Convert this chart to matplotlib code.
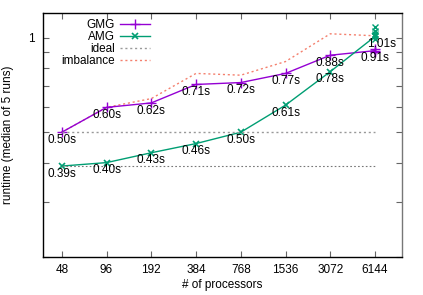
import matplotlib
matplotlib.use("Agg")
import matplotlib.pyplot as plt
from matplotlib.ticker import FixedLocator, NullFormatter

plt.rcParams['font.family'] = ['Liberation Sans', 'DejaVu Sans']
plt.rcParams['font.size'] = 8.5

# ====== DATA ======
procs = ["48", "96", "192", "384", "768", "1536", "3072", "6144"]
gmg = [0.50, 0.60, 0.62, 0.71, 0.72, 0.77, 0.88, 0.91]
amg = [0.39, 0.40, 0.43, 0.46, 0.50, 0.61, 0.78, 1.01]
imbalance = [0.50, 0.60, 0.64, 0.77, 0.76, 0.84, 1.03, 1.015]
gmg_ideal = 0.50
amg_ideal = 0.39
# individual runs at 6144 that spread out
amg_runs_last = [0.99, 1.01, 1.03, 1.05, 1.08]
gmg_runs_last = [0.90, 0.92]

GMG_COL = "#9400D3"
AMG_COL = "#009E73"

x = list(range(len(procs)))

fig = plt.figure(figsize=(4.23, 2.95), dpi=100)
ax = fig.add_axes([0.1017, 0.1288, 0.8483, 0.8272])

ax.plot(x, gmg, color=GMG_COL, marker="+", ms=7, mew=1, lw=1, label="GMG")
ax.plot(x, amg, color=AMG_COL, marker="x", ms=5, mew=1.2, lw=1, label="AMG")
ax.plot([x[0], x[-1]], [gmg_ideal, gmg_ideal], color="#999999", ls=(0, (1.5, 2)), lw=1, label="ideal")
ax.plot([x[0], x[-1]], [amg_ideal, amg_ideal], color="#777777", ls=(0, (1.5, 2)), lw=0.8)
ax.plot(x, imbalance, color="#F4806E", ls=(0, (1.5, 2)), lw=1, label="imbalance", zorder=1)

ax.plot([x[-1]] * len(amg_runs_last), amg_runs_last, ls="none", marker="x", ms=5, mew=1, color=AMG_COL)
ax.plot([x[-1]] * len(gmg_runs_last), gmg_runs_last, ls="none", marker="+", ms=7, mew=1, color=GMG_COL)

for xi, v in zip(x, gmg):
    ax.annotate(f"{v:.2f}s", (xi, v), xytext=(0, -5.5), textcoords="offset points",
                ha="center", va="center")
for i, (xi, v) in enumerate(zip(x, amg)):
    dx = 5 if i == len(amg) - 1 else 0
    ax.annotate(f"{v:.2f}s", (xi, v), xytext=(dx, -5.5), textcoords="offset points",
                ha="center", va="center")

ax.set_yscale("log")
ax.set_ylim(0.2, 1.2)
ax.set_xlim(-0.42, 7.6)
ax.yaxis.set_major_locator(FixedLocator([1.0]))
ax.yaxis.set_major_formatter(plt.FixedFormatter(["1"]))
ax.yaxis.set_minor_locator(FixedLocator([0.2, 0.3, 0.4, 0.5, 0.6, 0.7, 0.8, 0.9]))
ax.yaxis.set_minor_formatter(NullFormatter())
ax.set_xticks(x)
ax.set_xticklabels(procs)
ax.tick_params(which="both", direction="in", top=True, right=True, length=4, width=0.8,
               color="#666666")
ax.tick_params(axis="x", pad=5)
ax.tick_params(axis="y", pad=6)

ax.set_xlabel("# of processors", labelpad=2)
ax.set_ylabel("runtime (median of 5 runs)", labelpad=10)

for s in ax.spines.values():
    s.set_linewidth(1)
ax.spines["right"].set_color("#777777")

ax.legend(loc="upper right", bbox_to_anchor=(0.298, 0.975), frameon=False, markerfirst=False,
          handlelength=2.5, handletextpad=0.5, labelspacing=0.0, borderpad=0, borderaxespad=0)

fig.savefig("out.png", dpi=100)
